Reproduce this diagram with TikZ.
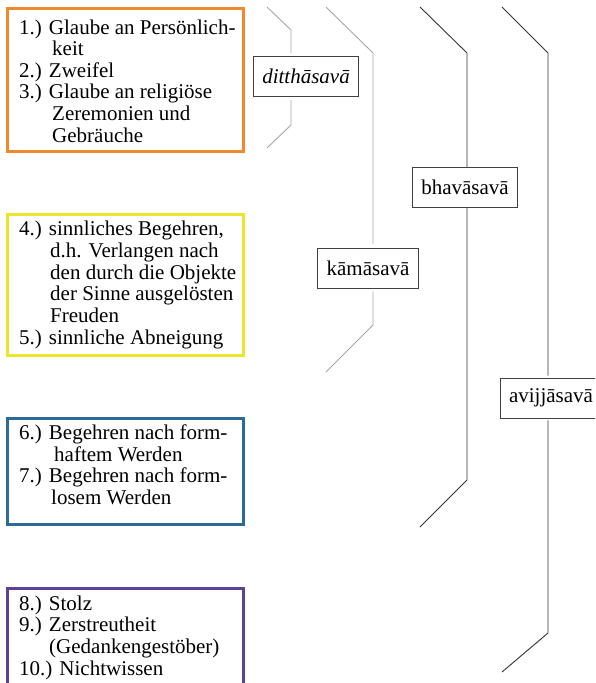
\documentclass[tikz,border=0pt]{standalone}
\usepackage{fontspec}
\setmainfont{Liberation Serif}
\usepackage{xcolor}
\usetikzlibrary{positioning}

\definecolor{orangeK}{RGB}{241,136,44}
\definecolor{gelbK}{RGB}{236,230,40}
\definecolor{blauK}{RGB}{44,106,154}
\definecolor{violettK}{RGB}{92,66,150}

\begin{document}
\begin{tikzpicture}[x=1pt, y=-1pt,
    kasten/.style={draw=#1, line width=3pt, rectangle, anchor=north west,
      minimum width=236pt, inner sep=0pt},
    % base = Grundlinie der letzten Zeile
    liste/.style={anchor=base west, align=left, inner sep=0pt,
      font=\fontsize{21}{21.6}\selectfont},
    asava/.style={draw=black!75, fill=white, line width=0.8pt, inner xsep=9pt,
      minimum height=40pt, font=\fontsize{21}{24}\selectfont},
    hell/.style={draw=black!35, line width=0.9pt},
    dunkel/.style={draw=black!80, line width=0.9pt}]
    \useasboundingbox (0,0) rectangle (595,683);
    \clip (0,0) rectangle (595,683);

    % Gruppen links
    \node[kasten=orangeK, minimum height=143pt] (g1) at (6,7) {};
    \node[liste] (t1) at (19,142) {1.) Glaube an Persönlich-\\\hspace*{33pt}keit\\2.) Zweifel\\3.) Glaube an religiöse\\\hspace*{33pt}Zeremonien und\\\hspace*{33pt}Gebräuche};

    \node[kasten=gelbK, minimum height=141pt] (g2) at (6,213) {};
    \node[liste, font=\fontsize{21}{21.8}\selectfont] (t2) at (19,344.5) {4.) sinnliches Begehren,\\\hspace*{31pt}d.h. Verlangen nach\\\hspace*{31pt}den durch die Objekte\\\hspace*{31pt}der Sinne ausgelösten\\\hspace*{31pt}Freuden\\5.) sinnliche Abneigung};

    \node[kasten=blauK, minimum height=106pt] (g3) at (6,417) {};
    \node[liste] (t3) at (19,504.5) {6.) Begehren nach form-\\\hspace*{35pt}haftem Werden\\7.) Begehren nach form-\\\hspace*{32pt}losem Werden};

    \node[kasten=violettK, minimum height=160pt] (g4) at (6,587) {};
    \node[liste] (t4) at (19,675) {8.) Stolz\\9.) Zerstreutheit\\\hspace*{30pt}(Gedankengestöber)\\10.) Nichtwissen};

    % asava
    \node[asava, font=\fontsize{21}{24}\selectfont\itshape] (ditth) at (306,76.5) {ditthāsavā};
    \node[asava] (kama) at (368,268) {kāmāsavā};
    \node[asava] (bhava) at (465,187.5) {bhavāsavā};
    \node[asava] (avijja) at (551,398) {avijjāsavā};

    \coordinate (d1) at (267,7);   \coordinate (d2) at (291,30);
    \coordinate (d3) at (291,125); \coordinate (d4) at (267,148);
    \draw[hell, shorten >=3pt] (d1) -- (d2) -- (d2 |- ditth.north);
    \draw[hell, shorten <=3pt] (ditth.south -| d3) -- (d3) -- (d4);

    \coordinate (k1) at (326,7);   \coordinate (k2) at (373,53);
    \coordinate (k3) at (373,325); \coordinate (k4) at (326,372);
    \draw[hell, shorten >=4pt] (k1) -- (k2) -- (k2 |- kama.north);
    \draw[hell, shorten <=3pt] (kama.south -| k3) -- (k3) -- (k4);

    \coordinate (b1) at (420,7);   \coordinate (b2) at (467,53);
    \coordinate (b3) at (467,480); \coordinate (b4) at (420,527);
    \draw[dunkel] (b1) -- (b2) -- (b2 |- bhava.north);
    \draw[dunkel] (bhava.south -| b3) -- (b3) -- (b4);

    \coordinate (a1) at (502,7);   \coordinate (a2) at (548,53);
    \coordinate (a3) at (548,633); \coordinate (a4) at (502,672);
    \draw[dunkel, shorten >=2pt] (a1) -- (a2) -- (a2 |- avijja.north);
    \draw[dunkel, shorten <=2pt] (avijja.south -| a3) -- (a3) -- (a4);
  \end{tikzpicture}
\end{document}
